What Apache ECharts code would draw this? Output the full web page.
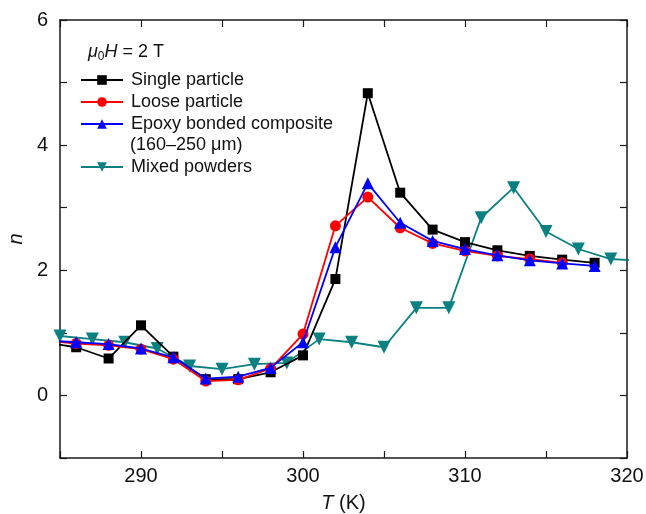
<!DOCTYPE html>
<html>
<head>
<meta charset="utf-8">
<script src="https://cdn.jsdelivr.net/npm/echarts@6/dist/echarts.min.js"></script>
<style>html,body{margin:0;padding:0;background:#fff;}#c{width:646px;height:514px;}</style>
</head>
<body>
<div id="c"></div>
<script>
// Data (T in K, n)
var singleT = [284, 286, 288, 290, 292, 294, 296, 298, 300, 302, 304, 306, 308, 310, 312, 314, 316, 318];
var singleN = [0.85, 0.77, 0.59, 1.12, 0.62, 0.26, 0.26, 0.37, 0.64, 1.86, 4.83, 3.24, 2.65, 2.45, 2.32, 2.23, 2.17, 2.12];
var looseT = [284, 286, 288, 290, 292, 294, 296, 298, 300, 302, 304, 306, 308, 310, 312, 314, 316];
var looseN = [0.88, 0.83, 0.80, 0.74, 0.58, 0.23, 0.25, 0.43, 0.98, 2.71, 3.17, 2.68, 2.43, 2.31, 2.23, 2.18, 2.12];
var epoxyT = [284, 286, 288, 290, 292, 294, 296, 298, 300, 302, 304, 306, 308, 310, 312, 314, 316, 318];
var epoxyN = [0.88, 0.85, 0.82, 0.75, 0.61, 0.27, 0.30, 0.44, 0.85, 2.37, 3.39, 2.76, 2.47, 2.34, 2.24, 2.16, 2.11, 2.07];
var mixedT = [285, 287, 289, 291, 293, 295, 297, 299, 301, 303, 305, 307, 309, 311, 313, 315, 317, 319, 321];
var mixedN = [0.95, 0.90, 0.85, 0.75, 0.47, 0.42, 0.50, 0.52, 0.90, 0.85, 0.77, 1.40, 1.40, 2.84, 3.32, 2.62, 2.34, 2.18, 2.15];
var xTicks = [290, 300, 310, 320];
var yTicks = [0, 2, 4, 6];
var seriesNames = ['Single particle', 'Loose particle', 'Epoxy bonded composite', 'Mixed powders'];
var epoxySecondLine = '(160–250 μm)';

function pairs(xs, ys) { return xs.map(function (x, i) { return [x, ys[i]]; }); }

var FONT = 'Liberation Sans, Arial, sans-serif';
var axisColor = '#1a1a1a';

var chart = echarts.init(document.getElementById('c'), null, {renderer: 'canvas'});

function mkX(pos, showLabel, withName) {
  var a = {
    type: 'value', position: pos, min: 285, max: 320, interval: 5,
    axisLine: {show: true, onZero: false, lineStyle: {color: axisColor, width: 1.5}},
    axisTick: {show: true, inside: true, length: 7, lineStyle: {color: axisColor, width: 1.2}},
    splitLine: {show: false},
    axisLabel: {
      show: showLabel, color: '#111', fontSize: 20, fontFamily: FONT, margin: 8,
      formatter: function (v) { return xTicks.indexOf(v) >= 0 ? String(v) : ''; }
    }
  };
  if (withName) {
    a.name = '{i|T} (K)';
    a.nameLocation = 'middle';
    a.nameGap = 35;
    a.nameTextStyle = {color: '#111', fontSize: 20, fontFamily: FONT,
      rich: {i: {fontStyle: 'italic', fontSize: 20, fontFamily: FONT, color: '#111'}}};
  }
  return a;
}
function mkY(pos, showLabel, withName) {
  var a = {
    type: 'value', position: pos, min: -1, max: 6, interval: 1,
    axisLine: {show: true, onZero: false, lineStyle: {color: axisColor, width: 1.5}},
    axisTick: {show: true, inside: true, length: 7, lineStyle: {color: axisColor, width: 1.2}},
    splitLine: {show: false},
    axisLabel: {
      show: showLabel, color: '#111', fontSize: 20, fontFamily: FONT, margin: 12,
      formatter: function (v) { return yTicks.indexOf(v) >= 0 ? String(v) : ''; }
    }
  };
  if (withName) {
    a.name = 'n';
    a.nameLocation = 'middle';
    a.nameGap = 32;
    a.nameTextStyle = {color: '#111', fontSize: 20, fontStyle: 'italic', fontFamily: FONT};
  }
  return a;
}

var legendText = {fontSize: 18, color: '#111', fontFamily: FONT, lineHeight: 22, padding: [0, 0, 0, 3]};

var option = {
  backgroundColor: '#fff',
  animation: false,
  grid: {left: 60, right: 19, top: 20, bottom: 56, containLabel: false, outerBoundsMode: 'none'},
  title: {
    text: '{i|μ}{s|0}{i|H} = 2 T',
    left: 88, top: 41, padding: 0,
    textStyle: {
      fontSize: 18, fontWeight: 'normal', color: '#111', fontFamily: FONT, lineHeight: 22,
      rich: {
        i: {fontStyle: 'italic', fontSize: 18, color: '#111', fontFamily: FONT, lineHeight: 22},
        s: {fontSize: 12, color: '#111', fontFamily: FONT, lineHeight: 22, padding: [9, 0, 0, 0]}
      }
    }
  },
  legend: [
    {
      orient: 'vertical', left: 80, top: 69, padding: 0,
      itemWidth: 42, itemHeight: 12, itemGap: 0,
      textStyle: legendText,
      data: seriesNames.slice(0, 3)
    },
    {
      orient: 'vertical', left: 80, top: 156, padding: 0,
      itemWidth: 42, itemHeight: 12, itemGap: 0,
      textStyle: legendText,
      data: seriesNames.slice(3)
    }
  ],
  graphic: [
    {
      type: 'text', left: 130, top: 136,
      style: {text: epoxySecondLine, fill: '#111', font: '18px Liberation Sans, Arial, sans-serif'}
    }
  ],
  xAxis: [mkX('bottom', true, true), mkX('top', false, false)],
  yAxis: [mkY('left', true, true), mkY('right', false, false)],
  series: [
    {
      name: seriesNames[3], type: 'line', data: pairs(mixedT, mixedN), z: 2,
      symbol: 'triangle', symbolRotate: 180, symbolSize: 13,
      itemStyle: {color: '#0a8080'}, lineStyle: {color: '#0a8080', width: 1.8}
    },
    {
      name: seriesNames[0], type: 'line', data: pairs(singleT, singleN), z: 3,
      symbol: 'rect', symbolSize: 10,
      itemStyle: {color: '#000'}, lineStyle: {color: '#000', width: 1.8}
    },
    {
      name: seriesNames[1], type: 'line', data: pairs(looseT, looseN), z: 4,
      symbol: 'circle', symbolSize: 11,
      itemStyle: {color: '#ff0000'}, lineStyle: {color: '#ff0000', width: 1.8}
    },
    {
      name: seriesNames[2], type: 'line', data: pairs(epoxyT, epoxyN), z: 5,
      symbol: 'triangle', symbolSize: 12,
      itemStyle: {color: '#0000ff'}, lineStyle: {color: '#0000ff', width: 1.8}
    }
  ]
};
chart.setOption(option);
</script>
</body>
</html>
